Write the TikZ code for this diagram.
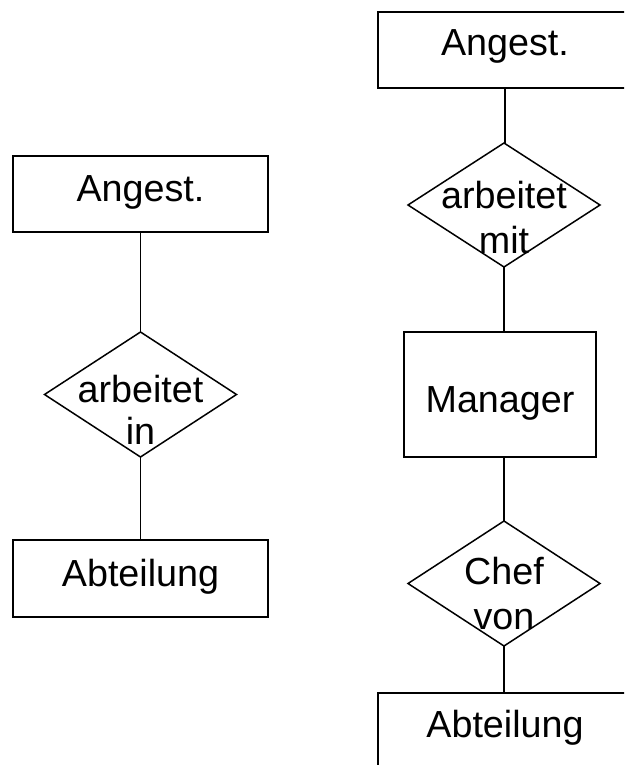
\documentclass[tikz,border=0pt]{standalone}
\usepackage{fontspec}
\setmainfont{Liberation Sans}
\usetikzlibrary{shapes.geometric}
\begin{document}
\begin{tikzpicture}[x=1pt,y=1pt,
  every node/.style={inner sep=0pt, outer sep=0pt},
  entity/.style={draw, line width=1.5pt, rectangle},
  relation/.style={draw, line width=1.5pt, shape=diamond, minimum width=192pt, minimum height=125pt, aspect=1.5},
  lbl/.style={anchor=base, font=\fontsize{37.7}{43}\selectfont},
  link/.style={line width=1.5pt}]
\clip (0,0) rectangle (624,-765);

% left: Angest. -- arbeitet in -- Abteilung
\node[entity, minimum width=255pt, minimum height=76pt] (A1) at (140.5,-194) {};
\node[relation] (R1) at (140.5,-394.5) {};
\node[entity, minimum width=255pt, minimum height=77pt] (B1) at (140.5,-578.5) {};
\node[lbl] (tA1) at (140.5,-201) {Angest.};
\node[lbl] (tR1a) at (140.5,-402) {arbeitet};
\node[lbl] (tR1b) at (140.5,-444) {in};
\node[lbl] (tB1) at (140.5,-586) {Abteilung};
\draw[link] (A1.south) -- (R1.north);
\draw[link] (R1.south) -- (B1.north);

% right: Angest. -- arbeitet mit -- Manager -- Chef von -- Abteilung
\node[entity, minimum width=254pt, minimum height=76pt] (A2) at (505,-50) {};
\node[relation, minimum height=124pt] (R2) at (504,-205) {};
\node[entity, minimum width=192pt, minimum height=125pt] (M) at (500,-394.5) {};
\node[relation] (R3) at (504,-583.5) {};
\node[entity, minimum width=254pt, minimum height=82pt] (B2) at (505,-734) {};
\node[lbl] (tA2) at (505,-56) {Angest.};
\node[lbl] (tR2a) at (504,-208) {arbeitet};
\node[lbl] (tR2b) at (504,-253) {mit};
\node[lbl] (tM) at (500,-412) {Manager};
\node[lbl] (tR3a) at (504,-584) {Chef};
\node[lbl] (tR3b) at (504,-629) {von};
\node[lbl] (tB2) at (505,-737) {Abteilung};
\draw[link] (A2.south) -- (A2.south |- R2.north);
\draw[link] (R2.south) -- (R2.south |- M.north);
\draw[link] (R2.south |- M.south) -- (R3.north);
\draw[link] (R3.south) -- (R3.south |- B2.north);
\end{tikzpicture}
\end{document}
